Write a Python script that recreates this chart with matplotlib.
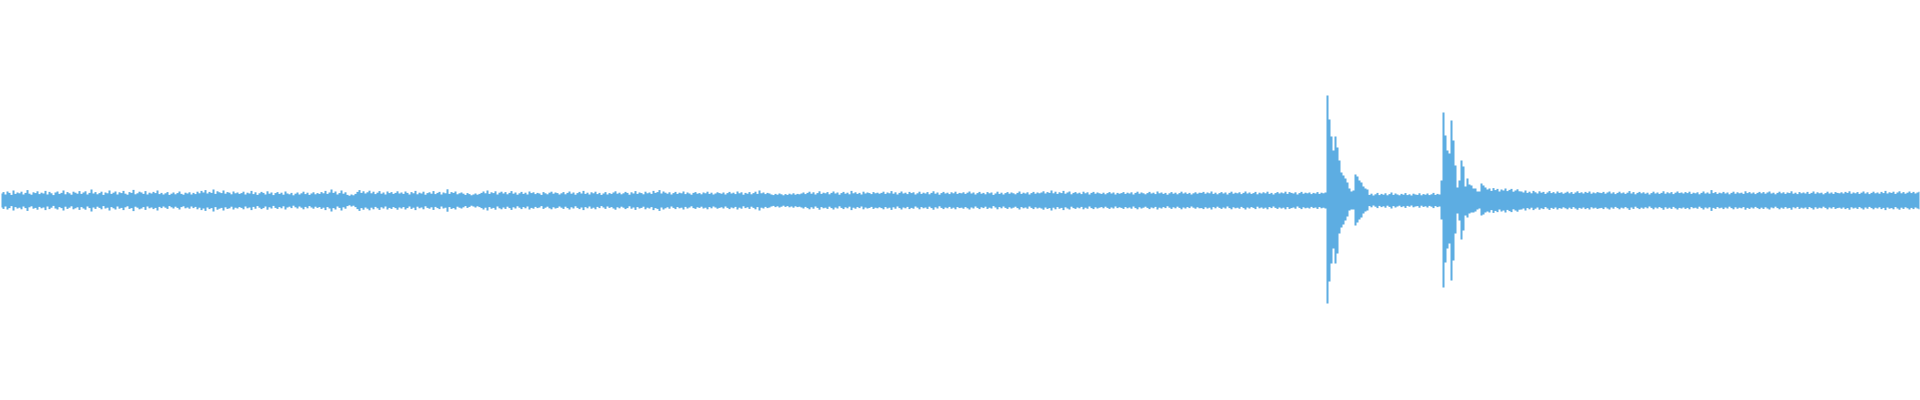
import numpy as np
import matplotlib
matplotlib.use("Agg")
import matplotlib.pyplot as plt

# Waveform envelope, one value per 2-pixel-wide time bin, in thousandths of full scale
noise_amp = [
    35, 42, 30, 45, 38, 28, 50, 33, 40, 36, 44, 30, 38, 52, 34, 29, 41, 37, 46, 32, 39, 35, 48, 30, 43, 36, 27, 40, 45, 33, 38, 50, 31, 42, 36, 29, 44, 39, 34, 47,
    33, 40, 46, 30, 38, 55, 35, 42, 31, 37, 44, 28, 40, 36, 50, 33, 39, 45, 30, 41, 37, 48, 34, 29, 42, 38, 53, 31, 36, 44, 40, 33, 47, 30, 39, 35, 43, 37, 50, 32,
    38, 30, 36, 42, 28, 34, 40, 31, 37, 45, 33, 29, 39, 35, 41, 30, 38, 32, 44, 36, 48, 40, 52, 35, 43, 38, 55, 33, 46, 41, 37, 50, 34, 42, 39, 31, 45, 36, 40, 33,
    37, 44, 30, 39, 35, 48, 32, 41, 28, 36, 43, 38, 30, 46, 34, 40, 27, 37, 42, 33, 39, 29, 45, 35, 31, 38, 26, 34, 40, 30, 36, 44, 32, 39, 28, 35, 41, 31, 37, 33,
    42, 36, 48, 33, 40, 55, 38, 45, 30, 37, 50, 34, 41, 28, 24, 30, 26, 33, 43, 52, 38, 46, 35, 41, 49, 36, 44, 32, 39, 47, 34, 40, 30, 45, 37, 42, 33, 38, 46, 35,
    40, 33, 45, 38, 30, 42, 36, 48, 31, 39, 35, 44, 29, 37, 41, 34, 47, 32, 38, 43, 30, 40, 36, 56, 33, 42, 38, 45, 31, 36, 40, 34, 28, 37, 32, 26, 30, 35, 29, 33,
    38, 45, 36, 50, 33, 41, 37, 46, 30, 39, 44, 35, 42, 31, 38, 47, 34, 40, 29, 36, 43, 33, 39, 30, 45, 37, 41, 32, 38, 35, 28, 42, 36, 31, 39, 44, 34, 40, 37, 30,
    36, 42, 31, 38, 45, 34, 40, 29, 37, 43, 35, 48, 33, 39, 30, 41, 36, 44, 32, 38, 28, 35, 42, 30, 37, 33, 40, 46, 34, 39, 31, 36, 43, 38, 29, 41, 35, 47, 33, 40,
    37, 31, 44, 36, 40, 33, 48, 38, 42, 52, 35, 45, 39, 34, 41, 30, 37, 43, 33, 39, 36, 45, 32, 40, 35, 29, 38, 42, 34, 37, 31, 40, 36, 44, 33, 39, 30, 35, 41, 37,
    34, 40, 30, 37, 43, 35, 39, 32, 45, 36, 41, 29, 38, 34, 42, 31, 37, 44, 33, 50, 36, 40, 32, 38, 35, 30, 27, 33, 29, 35, 31, 26, 32, 28, 34, 30, 36, 29, 33, 31,
    35, 40, 32, 38, 44, 34, 41, 30, 37, 46, 33, 39, 36, 42, 31, 38, 45, 35, 40, 29, 37, 43, 34, 39, 31, 48, 36, 41, 33, 38, 30, 44, 35, 40, 37, 32, 42, 36, 39, 34,
    38, 44, 33, 40, 36, 47, 34, 41, 30, 38, 45, 35, 39, 32, 43, 37, 41, 30, 36, 44, 33, 39, 35, 42, 31, 38, 46, 34, 40, 29, 37, 43, 35, 39, 32, 41, 36, 44, 33, 38,
    36, 41, 33, 39, 45, 35, 40, 30, 37, 43, 34, 38, 31, 42, 36, 40, 28, 35, 44, 33, 39, 30, 37, 42, 34, 40, 36, 31, 38, 45, 33, 39, 35, 41, 30, 37, 43, 34, 40, 36,
    40, 46, 35, 42, 38, 50, 36, 44, 33, 41, 37, 48, 34, 40, 45, 31, 38, 42, 35, 39, 32, 44, 36, 41, 30, 38, 43, 34, 40, 36, 33, 39, 31, 37, 42, 35, 40, 30, 38, 34,
    37, 42, 33, 39, 35, 41, 30, 38, 44, 34, 40, 36, 31, 37, 43, 35, 39, 32, 45, 36, 40, 33, 38, 29, 36, 42, 34, 39, 31, 37, 44, 35, 40, 33, 38, 30, 36, 41, 34, 39,
    38, 43, 34, 40, 36, 45, 33, 39, 31, 37, 42, 35, 40, 30, 38, 44, 34, 39, 36, 41, 32, 38, 45, 35, 40, 33, 37, 43, 31, 39, 35, 41, 36, 44, 33, 38, 30, 37, 42, 35,
    40, 36, 44, 33, 42, 38, 35, 41, 30, 37, 43, 34, 39, 36, 40, 32, 38, 35, 42, 33, 39, 36, 40, 30, 30, 30, 30, 30, 30, 30, 30, 30, 30, 30, 30, 30, 30, 30, 30, 30,
    30, 30, 30, 30, 28, 34, 25, 31, 38, 27, 33, 29, 36, 26, 32, 40, 28, 35, 30, 26, 33, 29, 37, 27, 31, 25, 34, 30, 28, 36, 26, 32, 29, 35, 27, 31, 38, 28, 33, 30,
    30, 30, 30, 30, 30, 30, 30, 30, 30, 30, 30, 30, 30, 30, 30, 30, 30, 30, 30, 30, 30, 30, 30, 55, 60, 48, 62, 52, 58, 45, 55, 50, 60, 47, 53, 58, 44, 50, 56, 46,
    45, 40, 50, 38, 44, 36, 48, 41, 35, 46, 39, 43, 33, 40, 47, 37, 42, 35, 45, 38, 41, 34, 39, 44, 36, 42, 33, 40, 46, 37, 41, 35, 43, 38, 45, 34, 40, 36, 42, 39,
    37, 43, 34, 40, 45, 35, 41, 32, 38, 44, 36, 40, 33, 39, 47, 35, 42, 31, 38, 43, 36, 41, 34, 39, 30, 37, 44, 35, 40, 33, 38, 46, 34, 41, 36, 42, 32, 39, 45, 37,
    40, 35, 42, 37, 44, 33, 39, 36, 41, 31, 38, 45, 35, 40, 34, 52, 37, 42, 33, 39, 36, 43, 35, 40, 31, 38, 44, 34, 41, 36, 39, 33, 46, 37, 42, 35, 40, 32, 38, 43,
    36, 42, 34, 40, 45, 35, 39, 31, 38, 44, 36, 41, 33, 40, 37, 46, 34, 39, 32, 42, 36, 40, 35, 43, 33, 38, 45, 34, 41, 36, 39, 31, 37, 44, 35, 40, 33, 42, 38, 36,
    41, 35, 43, 38, 46, 34, 40, 36, 42, 33, 39, 45, 35, 41, 32, 38, 44, 36, 40, 34, 43, 37, 48, 35, 41, 38, 44, 33, 40, 46, 36, 42, 34, 39, 45, 37, 43, 35, 40, 44,
]

# First impulse (bins starting at burst1_start)
burst1_start = 663
burst1_up = [525, 405, 320, 250, 320, 265, 200, 140, 125, 110, 90, 60, 45, 50, 130, 120, 100, 90, 70, 60, 55]
burst1_dn = [515, 405, 315, 240, 315, 265, 165, 135, 120, 100, 80, 50, 45, 45, 125, 110, 95, 85, 65, 55, 50]

# Second impulse
burst2_start = 720
burst2_up = [100, 440, 325, 250, 235, 400, 300, 175, 65, 100, 200, 170, 70, 110, 80, 75, 60, 60, 45, 45, 85, 75, 65]
burst2_dn = [95, 435, 310, 240, 215, 400, 300, 165, 65, 100, 195, 150, 75, 85, 65, 60, 60, 55, 45, 40, 75, 70, 60]

COLOR = "#5DADE2"

upper = np.array(noise_amp, dtype=float) / 1000.0
lower = upper.copy()
for start, up, dn in ((burst1_start, burst1_up, burst1_dn), (burst2_start, burst2_up, burst2_dn)):
    n = min(len(up), len(upper) - start)
    upper[start:start + n] = np.array(up[:n]) / 1000.0
    lower[start:start + n] = np.array(dn[:n]) / 1000.0

x = np.arange(len(upper))

fig = plt.figure(figsize=(19.2, 4.0), dpi=100)
ax = fig.add_axes([0, 0, 1, 1])
ax.fill_between(x, -lower, upper, step="mid", color=COLOR, linewidth=0)
ax.set_xlim(-0.5, len(upper) - 0.5)
ax.set_ylim(-1, 1)
ax.axis("off")
fig.savefig("out.png", dpi=100, facecolor="white")
